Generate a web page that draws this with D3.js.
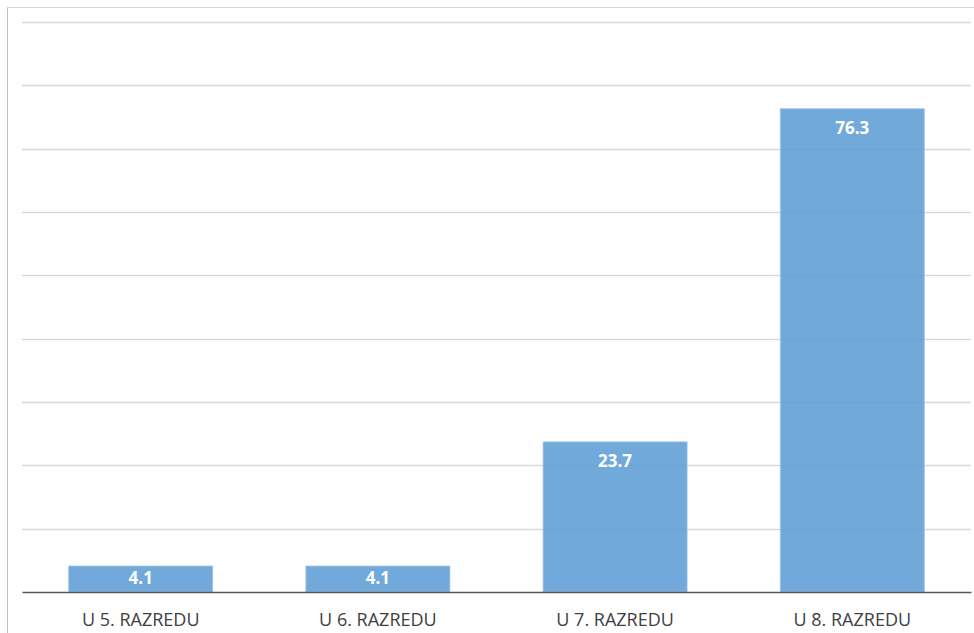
<!DOCTYPE html>
<html>
<head>
<meta charset="utf-8">
<script src="https://cdn.jsdelivr.net/npm/d3@7"></script>
<style>
  body { margin: 0; background: #fff; }
  text { font-family: "Open Sans", "DejaVu Sans", sans-serif; }
</style>
</head>
<body>
<div id="container"></div>
<script>
var w = 974,
    h = 633;

// data
var categories = ['U 5. RAZREDU', 'U 6. RAZREDU', 'U 7. RAZREDU', 'U 8. RAZREDU'];
var values = [4.1, 4.1, 23.7, 76.3];
var gridTicks = [0, 10, 20, 30, 40, 50, 60, 70, 80, 90];

var svg = d3.select('#container')
    .append('svg')
    .attr('width', w)
    .attr('height', h);

// chart frame (top + left border)
svg.append('line')
    .attr('x1', 7.5).attr('x2', w)
    .attr('y1', 7.5).attr('y2', 7.5)
    .attr('stroke', '#d9d9d9');
svg.append('line')
    .attr('x1', 7.5).attr('x2', 7.5)
    .attr('y1', 7.5).attr('y2', h)
    .attr('stroke', '#bfbfbf');

// note: 'top' is taken by window.top, so use plot* names
var plotLeft = 22, plotRight = 971, plotTop = 22, plotBottom = 592;

var x = d3.scaleBand()
    .domain(categories)
    .range([plotLeft, plotRight])
    .paddingInner(0.393)
    .paddingOuter(0.197);

var y = d3.scaleLinear()
    .domain([0, 90])
    .range([plotBottom, plotTop]);

// gridlines
svg.append('g')
    .selectAll('line')
    .data(gridTicks.slice(1))
    .enter()
    .append('line')
    .attr('x1', plotLeft).attr('x2', plotRight)
    .attr('y1', function(d) { return Math.round(y(d)) + 0.5; })
    .attr('y2', function(d) { return Math.round(y(d)) + 0.5; })
    .attr('stroke', '#d9d9d9')
    .attr('stroke-width', 1.3);

var data = categories.map(function(c, i) { return { name: c, value: values[i] }; });

// bars
var bars = svg.selectAll('.bar').data(data)
    .enter()
    .append('g')
    .attr('class', 'bar');

bars.append('rect')
    .attr('x', function(d) { return x(d.name); })
    .attr('y', function(d) { return y(d.value); })
    .attr('width', x.bandwidth())
    .attr('height', function(d) { return y(0) - y(d.value); })
    .attr('fill', '#5b9bd5')
    .attr('fill-opacity', 0.86)
    .attr('stroke', '#9cc3e6')
    .attr('stroke-width', 0.8);

bars.append('text')
    .attr('x', function(d) { return x(d.name) + x.bandwidth() / 2; })
    .attr('y', function(d) {
        var t = y(d.value);
        return Math.min(t + 25, (t + y(0)) / 2 + 4.5);
    })
    .attr('text-anchor', 'middle')
    .attr('fill', '#fff')
    .attr('font-weight', 'bold')
    .attr('font-size', '17px')
    .text(function(d) { return d.value.toFixed(1); });

// x axis
var xAxis = svg.append('g')
    .attr('transform', 'translate(0,' + plotBottom + ')')
    .call(d3.axisBottom(x).tickSize(0).tickPadding(21));
xAxis.select('.domain')
    .attr('stroke', '#595959')
    .attr('stroke-width', 1.6);
xAxis.selectAll('text')
    .attr('font-size', '18px')
    .attr('fill', '#404040');
</script>
</body>
</html>
